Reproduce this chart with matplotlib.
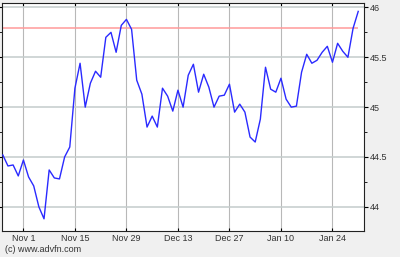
import numpy as np
import matplotlib.pyplot as plt
from matplotlib.ticker import MultipleLocator

# closing prices, one per trading day
prices = [44.52, 44.41, 44.42, 44.31, 44.47, 44.30, 44.21, 44.00, 43.88, 44.37,
          44.29, 44.28, 44.50, 44.60, 45.19, 45.44, 45.00, 45.24, 45.36, 45.30,
          45.70, 45.75, 45.55, 45.82, 45.88, 45.78, 45.27, 45.13, 44.80, 44.91,
          44.80, 45.19, 45.11, 44.96, 45.17, 45.00, 45.32, 45.43, 45.15, 45.33,
          45.20, 45.00, 45.11, 45.12, 45.23, 44.95, 45.03, 44.95, 44.70, 44.65,
          44.88, 45.40, 45.18, 45.15, 45.29, 45.08, 45.00, 45.01, 45.35, 45.53,
          45.44, 45.47, 45.55, 45.61, 45.45, 45.64, 45.56, 45.50, 45.79, 45.96]
ref_level = 45.79

tick_days = [4, 14, 24, 34, 44, 54, 64]
tick_labels = ['Nov 1', 'Nov 15', 'Nov 29', 'Dec 13', 'Dec 27', 'Jan 10', 'Jan 24']
y_ticks = [44, 44.5, 45, 45.5, 46]
y_labels = ['44', '44.5', '45', '45.5', '46']

plt.rcParams['font.family'] = ['Liberation Sans', 'DejaVu Sans']

days = np.arange(len(prices))

fig = plt.figure(figsize=(4, 2.57), dpi=100, facecolor='#f0f0f0')
ax = fig.add_axes([0.006, 0.102, 0.905, 0.887])
ax.set_facecolor('white')

ax.hlines(ref_level, days[0], days[-1], color='#ff9a9a', lw=1.1, zorder=2)
ax.plot(days, prices, color='#2a2aff', lw=1.0, zorder=3)

ax.set_xlim(-0.08, 70.2)
ax.set_ylim(43.76, 46.046)

ax.set_xticks(tick_days)
ax.set_xticklabels(tick_labels)
ax.set_yticks(y_ticks)
ax.set_yticklabels(y_labels)
ax.yaxis.set_minor_locator(MultipleLocator(0.25))

ax.grid(True, which='major', axis='x', color='#b8b8b8', lw=0.8)
ax.grid(True, which='major', axis='y', color='#c4cccc', lw=1.1)

ax.yaxis.tick_right()
ax.tick_params(axis='y', which='both', left=True, right=True, direction='out',
               labelsize=6.5, labelcolor='#333333', pad=1)
ax.tick_params(axis='y', which='major', length=3, width=0.8)
ax.tick_params(axis='y', which='minor', length=2, width=0.6)
ax.tick_params(axis='x', which='both', top=True, bottom=True, direction='in',
               length=2, width=0.8, labelsize=6.5, labelcolor='#333333', pad=2.5)

for sp in ax.spines.values():
    sp.set_color('#222222')
    sp.set_linewidth(0.8)

fig.text(0.012, 0.012, '(c) www.advfn.com', fontsize=6.5, color='#333333',
         va='bottom')

plt.savefig('out.png', dpi=100, facecolor=fig.get_facecolor())
